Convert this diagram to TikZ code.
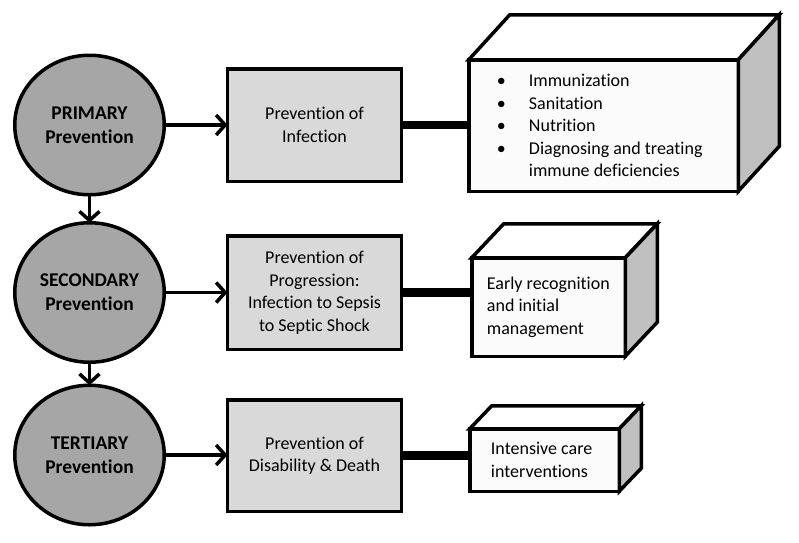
\documentclass[tikz,border=0pt]{standalone}
\usepackage{fontspec}
\setmainfont{Carlito}[Ligatures=NoCommon]
\usepackage{tikz}
\usetikzlibrary{calc}
\usetikzlibrary{arrows.meta}
\usetikzlibrary{shapes.geometric}
\definecolor{stagegray}{RGB}{166,166,166}
\definecolor{goalgray}{RGB}{217,217,217}
\definecolor{facewhite}{RGB}{251,251,251}
\definecolor{sidegray}{RGB}{192,192,192}
\newcommand{\bulletitem}[1]{\makebox[32pt][l]{\textbullet}#1}
\newcommand{\cubefaces}[3]{
    \path[cubetop] (#1.north west) -- ++(#2,#3) -- ($(#1.north east)+(#2,#3)$) -- (#1.north east) -- cycle;
    \path[cubeside] (#1.north east) -- ++(#2,#3) -- ($(#1.south east)+(#2,#3)$) -- (#1.south east) -- cycle;
}
\tikzset{
    common/.style={draw, line width=3.5pt, outer sep=0pt, inner sep=0pt},
    stage/.style={common, ellipse, fill=stagegray, minimum width=149.5pt, minimum height=139.5pt, align=center, font=\fontsize{19.5}{24}\selectfont\bfseries},
    goal/.style={common, rectangle, fill=goalgray, minimum width=174pt, align=center, font=\fontsize{18}{22.5}\selectfont},
    cubefront/.style={common, rectangle, fill=facewhite},
    cubetop/.style={common, fill=white},
    cubeside/.style={common, fill=sidegray},
    cubetext/.style={anchor=west, inner sep=0pt, align=left, font=\fontsize{18}{22.5}\selectfont},
    flow/.style={line width=3.5pt, -{Straight Barb[length=9pt, width=20pt, line width=3.5pt]}},
    bar/.style={line width=8.5pt}
}

\begin{document}
\begin{tikzpicture}[x=1pt, y=-1pt]
            \useasboundingbox (0,0) rectangle (799,542);

            \path
                (89.5,125) node[stage] (primary) {PRIMARY\\Prevention}
                (89.5,292.5) node[stage] (secondary) {SECONDARY\\Prevention}
                (89.5,455) node[stage] (tertiary) {TERTIARY\\Prevention};

            \path
                (314.5,125) node[goal, minimum height=112.5pt] (infection) {Prevention of\\Infection}
                (314.5,292.5) node[goal, minimum height=113.5pt] (progression) {Prevention of\\Progression:\\Infection to Sepsis\\to Septic Shock}
                (314.5,455.5) node[goal, minimum height=111.5pt] (disability) {Prevention of\\Disability \& Death};

            \path
                (603.5,125.5) node[cubefront, minimum width=269.5pt, minimum height=131.5pt] (measures) {}
                (548.5,307) node[cubefront, minimum width=153.5pt, minimum height=98.5pt] (recognition) {}
                (544.5,460) node[cubefront, minimum width=149.5pt, minimum height=62.5pt] (intensive) {};

            \cubefaces{measures}{41}{-45}
            \cubefaces{recognition}{32}{-34}
            \cubefaces{intensive}{22}{-23}

            \path
                ([xshift=28pt]measures.west) node[cubetext] (measures-text) {\bulletitem{Immunization}\\\bulletitem{Sanitation}\\\bulletitem{Nutrition}\\\bulletitem{Diagnosing and treating}\\\hspace*{32pt}immune deficiencies}
                ([xshift=15pt]recognition.west) node[cubetext] (recognition-text) {Early recognition\\and initial\\management}
                ([xshift=21pt]intensive.west) node[cubetext] (intensive-text) {Intensive care\\interventions};

            \draw[flow] (primary.east) -- (primary.east -| infection.west);
            \draw[flow] (secondary.east) -- (secondary.east -| progression.west);
            \draw[flow] (tertiary.east) -- (tertiary.east -| disability.west);
            \draw[flow] (primary.south) -- (secondary.north);
            \draw[flow] (secondary.south) -- (tertiary.north);

            \draw[bar] (infection.east) -- (infection.east -| measures.west);
            \draw[bar] (progression.east) -- (progression.east -| recognition.west);
            \draw[bar] (disability.east) -- (disability.east -| intensive.west);
\end{tikzpicture}
\end{document}
